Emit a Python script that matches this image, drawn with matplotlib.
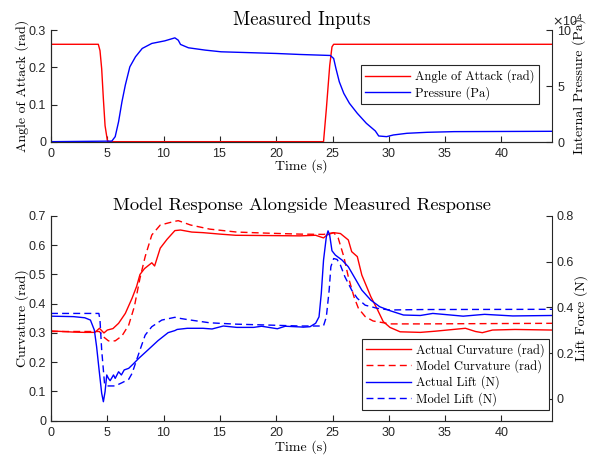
import matplotlib
matplotlib.use('Agg')
import matplotlib.pyplot as plt
from matplotlib.ticker import ScalarFormatter

# ---- data ----
# top panel: angle of attack (rad) and internal pressure (Pa)
aoa_t = [0, 4.2, 4.35, 4.5, 4.65, 4.8, 5.0, 5.1, 24.2, 24.45, 24.75, 24.95, 25.1, 44.5]
aoa = [0.262, 0.262, 0.245, 0.196, 0.115, 0.043, 0.004, 0.0, 0.0, 0.088, 0.205, 0.255, 0.262, 0.262]

p_t = [0, 5.4, 5.7, 6.0, 6.3, 6.6, 7.0, 7.5, 8.1, 8.95, 10.1, 11.0, 11.3, 11.5, 12.2, 13.7,
       15.1, 20.0, 22.1, 23.9, 24.8, 25.1, 25.3, 25.6, 26.0, 26.5, 27.2, 28.0, 28.8, 29.1,
       29.8, 30.4, 31.6, 33.4, 35.8, 44.5]
p_1e4 = [0.0, 0.05, 0.45, 1.79, 3.58, 5.08, 6.71, 7.61, 8.36, 8.81, 9.04, 9.31, 9.1, 8.72, 8.42, 8.21,
         8.06, 7.91, 7.82, 7.76, 7.73, 7.46, 6.57, 5.37, 4.33, 3.44, 2.54, 1.65, 0.96, 0.51,
         0.45, 0.6, 0.75, 0.84, 0.9, 0.93]
pressure = [v * 1e4 for v in p_1e4]

# bottom panel: curvature (rad)
ca_t = [0, 1, 2, 3, 3.9, 4.3, 4.7, 5.0, 5.5, 6.0, 6.6, 7.2, 7.6, 7.9, 8.3, 8.95, 9.2, 9.7, 10.3,
        11.0, 11.5, 12.5, 13.5, 15.0, 16.4, 19.4, 22.1, 23.5, 24.2, 24.5, 25.1, 25.7, 26.4, 26.7,
        27.2, 27.6, 28.4, 29.0, 29.5, 30.1, 31.0, 32.8, 34.1, 36.8, 37.7, 38.3, 39.2, 41.2, 44.5]
curv_actual = [0.307, 0.305, 0.303, 0.302, 0.302, 0.316, 0.300, 0.310, 0.315, 0.333, 0.367, 0.419,
               0.459, 0.500, 0.520, 0.540, 0.529, 0.590, 0.620, 0.650, 0.652, 0.645, 0.643, 0.638,
               0.634, 0.633, 0.632, 0.634, 0.625, 0.635, 0.643, 0.640, 0.618, 0.578, 0.561, 0.498,
               0.424, 0.379, 0.339, 0.319, 0.304, 0.302, 0.306, 0.316, 0.305, 0.301, 0.310, 0.312,
               0.310]

cm_t = [0, 4.3, 4.65, 5.1, 5.7, 6.3, 6.9, 7.4, 7.9, 8.36, 8.95, 9.7, 10.9, 11.3, 12.4, 14.1, 16.5,
        19.4, 22.1, 24.2, 25.1, 25.5, 26.0, 26.4, 26.9, 27.3, 27.9, 28.6, 30.1, 32.8, 44.5]
curv_model = [0.305, 0.305, 0.287, 0.273, 0.273, 0.290, 0.327, 0.390, 0.487, 0.561, 0.635, 0.669,
              0.681, 0.684, 0.669, 0.655, 0.645, 0.641, 0.638, 0.637, 0.643, 0.625, 0.561, 0.492,
              0.424, 0.384, 0.356, 0.341, 0.331, 0.331, 0.333]

# bottom panel: lift force (N)
la_t = [0, 2, 3.0, 3.5, 3.85, 4.05, 4.27, 4.5, 4.65, 4.8, 4.95, 5.1, 5.25, 5.55, 5.7, 6.0, 6.25,
        6.5, 6.9, 7.3, 7.8, 8.6, 9.5, 10.4, 11.0, 11.2, 12.1, 13.5, 14.3, 15.3, 16.5, 18.0, 18.7,
        20.1, 20.8, 22.1, 22.4, 23.0, 23.5, 23.8, 24.0, 24.2, 24.45, 24.6, 24.75, 24.95, 25.25,
        25.85, 26.4, 27.0, 27.6, 28.4, 29.2, 30.1, 31.3, 32.8, 33.9, 35.5, 36.6, 38.5, 41.0, 44.5]
lift_actual = [0.362, 0.360, 0.355, 0.345, 0.301, 0.228, 0.127, 0.025, -0.012, 0.032, 0.105, 0.090,
               0.080, 0.105, 0.090, 0.119, 0.105, 0.127, 0.134, 0.153, 0.178, 0.214, 0.255, 0.290,
               0.299, 0.304, 0.309, 0.309, 0.306, 0.319, 0.313, 0.313, 0.318, 0.307, 0.318, 0.315,
               0.314, 0.316, 0.331, 0.359, 0.461, 0.607, 0.709, 0.735, 0.715, 0.648, 0.629, 0.607,
               0.578, 0.527, 0.476, 0.432, 0.403, 0.386, 0.367, 0.365, 0.374, 0.367, 0.362, 0.370,
               0.363, 0.365]

lm_t = [0, 4.25, 4.35, 4.5, 4.75, 4.95, 5.7, 6.3, 6.9, 7.2, 7.5, 7.9, 8.36, 8.95, 9.84, 11.0, 11.5,
        12.4, 14.1, 16.5, 19.4, 22.1, 24.0, 24.2, 24.45, 24.7, 24.85, 25.1, 25.4, 25.7, 26.1, 26.7,
        27.2, 27.9, 29.0, 30.1, 33.0, 44.5]
lift_model = [0.374, 0.374, 0.345, 0.214, 0.069, 0.057, 0.057, 0.071, 0.086, 0.112, 0.156, 0.214,
              0.279, 0.316, 0.345, 0.357, 0.352, 0.345, 0.333, 0.327, 0.323, 0.319, 0.319, 0.320,
              0.359, 0.476, 0.578, 0.614, 0.610, 0.585, 0.534, 0.476, 0.440, 0.410, 0.396, 0.389,
              0.391, 0.392]

# ---- styling (MATLAB-ish) ----
SERIF = 'cmr10'
AX_COL = '#262626'
plt.rcParams['font.family'] = ['Liberation Sans', 'DejaVu Sans']
plt.rcParams['axes.formatter.use_mathtext'] = True


def style_axes(ax, right=False):
    ax.spines['top'].set_visible(False)
    for s in ax.spines.values():
        s.set_color(AX_COL)
        s.set_linewidth(0.8)
    ax.tick_params(direction='in', length=4, width=0.8, colors=AX_COL, labelsize=9,
                   labelcolor=AX_COL)
    if not right:
        ax.spines['right'].set_visible(False)


fig = plt.figure(figsize=(5.98, 4.57), dpi=100)
ax1 = fig.add_axes([0.0853, 0.690, 0.838, 0.244])
ax2 = ax1.twinx()
ax3 = fig.add_axes([0.0853, 0.0794, 0.838, 0.448])
ax4 = ax3.twinx()

# ---- top: measured inputs ----
l1, = ax1.plot(aoa_t, aoa, color='r', lw=1.0)
l2, = ax2.plot(p_t, pressure, color='b', lw=1.0)
ax1.set_xlim(0, 44.5)
ax1.set_ylim(0, 0.3)
ax1.set_yticks([0, 0.1, 0.2, 0.3])
ax1.set_yticklabels(['0', '0.1', '0.2', '0.3'])
ax2.set_ylim(0, 1e5)
ax2.set_yticks([0, 5e4, 1e5])
fmt = ScalarFormatter(useMathText=True)
fmt.set_powerlimits((4, 4))
ax2.yaxis.set_major_formatter(fmt)
ax1.set_xticks(range(0, 45, 5))
style_axes(ax1)
style_axes(ax2, right=True)
off = ax2.yaxis.get_offset_text()
off.set_fontsize(9)
off.set_color(AX_COL)
off.set_ha('left')

ax1.set_title('Measured Inputs', fontfamily=SERIF, fontsize=13.5, pad=4)
ax1.set_xlabel('Time (s)', fontfamily=SERIF, fontsize=10, labelpad=0)
ax1.set_ylabel('Angle of Attack (rad)', fontfamily=SERIF, fontsize=10, labelpad=0)
ax2.set_ylabel('Internal Pressure (Pa)', fontfamily=SERIF, fontsize=10, labelpad=0)

leg_kw = dict(loc='lower right', borderaxespad=0, prop={'family': SERIF, 'size': 9},
              fancybox=False, framealpha=1, edgecolor=AX_COL, handlelength=3.6,
              handletextpad=0.4, borderpad=0.35, labelspacing=0.2)
leg1 = ax2.legend([l1, l2], ['Angle of Attack (rad)', 'Pressure (Pa)'],
                  bbox_to_anchor=(0.974, 0.3375), **leg_kw)
leg1.get_frame().set_linewidth(0.8)

# ---- bottom: model vs measured response ----
l3, = ax3.plot(ca_t, curv_actual, color='r', lw=1.0)
l4, = ax3.plot(cm_t, curv_model, color='r', lw=1.0, ls=(0, (5, 3)))
l5, = ax4.plot(la_t, lift_actual, color='b', lw=1.0)
l6, = ax4.plot(lm_t, lift_model, color='b', lw=1.0, ls=(0, (5, 3)))
ax3.set_xlim(0, 44.5)
ax3.set_ylim(0, 0.7)
ax3.set_yticks([0, 0.1, 0.2, 0.3, 0.4, 0.5, 0.6, 0.7])
ax3.set_yticklabels(['0', '0.1', '0.2', '0.3', '0.4', '0.5', '0.6', '0.7'])
ax4.set_ylim(-0.095, 0.8)
ax4.set_yticks([0, 0.2, 0.4, 0.6, 0.8])
ax4.set_yticklabels(['0', '0.2', '0.4', '0.6', '0.8'])
ax3.set_xticks(range(0, 45, 5))
style_axes(ax3)
style_axes(ax4, right=True)

ax3.set_title('Model Response Alongside Measured Response', fontfamily=SERIF, fontsize=13.3, pad=4)
ax3.set_xlabel('Time (s)', fontfamily=SERIF, fontsize=10, labelpad=1)
ax3.set_ylabel('Curvature (rad)', fontfamily=SERIF, fontsize=10, labelpad=0)
ax4.set_ylabel('Lift Force (N)', fontfamily=SERIF, fontsize=10, labelpad=0)

leg2 = ax4.legend([l3, l4, l5, l6],
                  ['Actual Curvature (rad)', 'Model Curvature (rad)', 'Actual Lift (N)',
                   'Model Lift (N)'],
                  bbox_to_anchor=(0.994, 0.052), **leg_kw)
leg2.get_frame().set_linewidth(0.8)

fig.savefig('out.png', dpi=100)
